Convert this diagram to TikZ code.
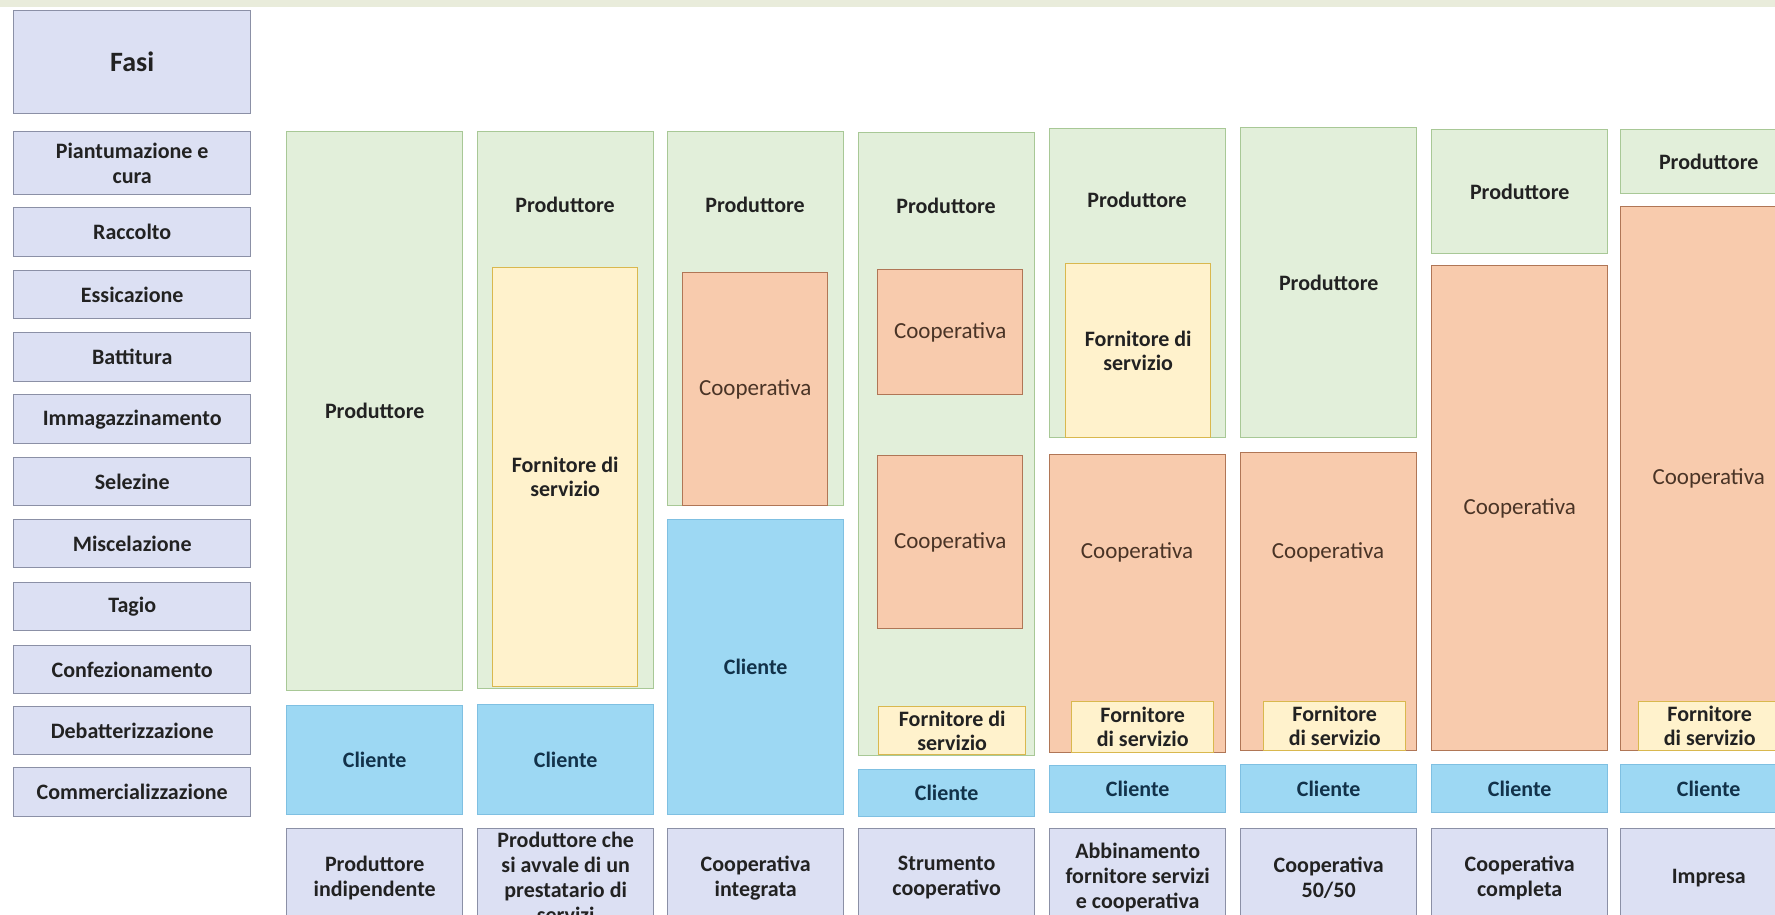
\documentclass[tikz,border=0pt]{standalone}
\usepackage{fontspec}
\setmainfont{Carlito}
\definecolor{grnF}{HTML}{E2EFDA}
\definecolor{grnD}{HTML}{A8C896}
\definecolor{yelF}{HTML}{FFF2CC}
\definecolor{yelD}{HTML}{D9B84E}
\definecolor{orF}{HTML}{F8CBAD}
\definecolor{orD}{HTML}{B07656}
\definecolor{bluF}{HTML}{9DD8F3}
\definecolor{bluD}{HTML}{7FC0E2}
\definecolor{lavF}{HTML}{DCE0F3}
\definecolor{lavD}{HTML}{8B90A6}
\definecolor{topF}{HTML}{E9ECDB}
\definecolor{txt}{HTML}{222222}
\definecolor{coopT}{HTML}{4A3426}
\definecolor{cliT}{HTML}{12324A}
\tikzset{
  base/.style={rectangle, inner sep=0pt, align=center, line width=1.4pt},
  bfont/.style={font=\fontsize{22}{25}\selectfont\bfseries},
  phase/.style={base, fill=lavF, draw=lavD, text=txt, bfont},
  grn/.style={base, fill=grnF, draw=grnD, text=txt, bfont},
  yel/.style={base, fill=yelF, draw=yelD, text=txt, font=\fontsize{22}{24}\selectfont\bfseries},
  ora/.style={base, fill=orF, draw=orD, text=coopT, font=\fontsize{23}{25}\selectfont},
  blu/.style={base, fill=bluF, draw=bluD, text=cliT, bfont},
  kind/.style={phase},
  grnT/.style={inner sep=0pt, text=txt, bfont},
  oraT/.style={inner sep=0pt, text=coopT, font=\fontsize{23}{25}\selectfont},
}
\newcommand\rbox[7]{\node[#2, anchor=north west, minimum width={#5-#3}, minimum height={#6-#4}] (#1) at (#3,#4) {#7};}
\begin{document}
\begin{tikzpicture}[x=1pt,y=-1pt]
\useasboundingbox (0,0) rectangle (1775,915);
\clip (0,0) rectangle (1775,915);
\fill[white] (0,0) rectangle (1775,915);
\fill[topF] (0,0) rectangle (1775,7);
% phases
\rbox{fasi}{phase, font=\fontsize{28}{30}\selectfont\bfseries}{13}{10}{250}{113}{Fasi}
\rbox{p1}{phase}{13}{131}{250}{194}{Piantumazione e\\cura}
\rbox{p2}{phase}{13}{207}{250}{256}{Raccolto}
\rbox{p3}{phase}{13}{270}{250}{318}{Essicazione}
\rbox{p4}{phase}{13}{332}{250}{381}{Battitura}
\rbox{p5}{phase}{13}{394}{250}{443}{Immagazzinamento}
\rbox{p6}{phase}{13}{457}{250}{505}{Selezine}
\rbox{p7}{phase}{13}{519}{250}{567}{Miscelazione}
\rbox{p8}{phase}{13}{582}{250}{630}{Tagio}
\rbox{p9}{phase}{13}{645}{250}{693}{Confezionamento}
\rbox{p10}{phase}{13}{706}{250}{754}{Debatterizzazione}
\rbox{p11}{phase}{13}{767}{250}{816}{Commercializzazione}
% column 1
\rbox{c1g}{grn}{286}{131}{462}{690}{Produttore}
\rbox{c1c}{blu}{286}{705}{462}{814}{Cliente}
\rbox{c1k}{kind}{286}{828}{462}{926}{Produttore\\indipendente}
% column 2
\rbox{c2g}{grn}{477}{131}{653}{688}{}
\node[grnT] (c2gt) at (565,205) {Produttore};
\rbox{c2y}{yel}{492}{267}{637}{686}{Fornitore di\\servizio}
\rbox{c2c}{blu}{477}{704}{653}{814}{Cliente}
\rbox{c2k}{kind}{477}{828}{653}{926}{Produttore che\\si avvale di un\\prestatario di\\servizi}
% column 3
\rbox{c3g}{grn}{667}{131}{843}{505}{}
\node[grnT] (c3gt) at (755,205) {Produttore};
\rbox{c3o}{ora}{682}{272}{827}{505}{Cooperativa}
\rbox{c3c}{blu}{667}{519}{843}{814}{Cliente}
\rbox{c3k}{kind}{667}{828}{843}{926}{Cooperativa\\integrata}
% column 4
\rbox{c4g}{grn}{858}{132}{1034}{755}{}
\node[grnT] (c4gt) at (946,206) {Produttore};
\rbox{c4o1}{ora}{877}{269}{1022}{394}{Cooperativa}
\rbox{c4o2}{ora}{877}{455}{1022}{628}{Cooperativa}
\rbox{c4y}{yel}{878}{706}{1025}{754}{Fornitore di\\servizio}
\rbox{c4c}{blu}{858}{769}{1034}{816}{Cliente}
\rbox{c4k}{kind}{858}{828}{1034}{926}{Strumento\\cooperativo}
% column 5
\rbox{c5g}{grn}{1049}{128}{1225}{437}{}
\node[grnT] (c5gt) at (1137,200) {Produttore};
\rbox{c5y}{yel}{1065}{263}{1210}{437}{Fornitore di\\servizio}
\rbox{c5o}{ora}{1049}{454}{1225}{752}{}
\node[oraT] (c5ot) at (1137,552) {Cooperativa};
\rbox{c5y2}{yel}{1071}{701}{1213}{752}{Fornitore\\di servizio}
\rbox{c5c}{blu}{1049}{765}{1225}{812}{Cliente}
\rbox{c5k}{kind}{1049}{828}{1225}{926}{Abbinamento\\fornitore servizi\\e cooperativa}
% column 6
\rbox{c6g}{grn}{1240}{127}{1416}{437}{Produttore}
\rbox{c6o}{ora}{1240}{452}{1416}{750}{}
\node[oraT] (c6ot) at (1328,552) {Cooperativa};
\rbox{c6y}{yel}{1263}{701}{1405}{750}{Fornitore\\di servizio}
\rbox{c6c}{blu}{1240}{764}{1416}{812}{Cliente}
\rbox{c6k}{kind}{1240}{828}{1416}{926}{Cooperativa\\50/50}
% column 7
\rbox{c7g}{grn}{1431}{129}{1607}{253}{Produttore}
\rbox{c7o}{ora}{1431}{265}{1607}{750}{Cooperativa}
\rbox{c7c}{blu}{1431}{764}{1607}{812}{Cliente}
\rbox{c7k}{kind}{1431}{828}{1607}{926}{Cooperativa\\completa}
% column 8
\rbox{c8g}{grn}{1620}{129}{1796}{193}{Produttore}
\rbox{c8o}{ora}{1620}{206}{1796}{750}{Cooperativa}
\rbox{c8y}{yel}{1638}{701}{1780}{750}{Fornitore\\di servizio}
\rbox{c8c}{blu}{1620}{764}{1796}{812}{Cliente}
\rbox{c8k}{kind}{1620}{828}{1796}{926}{Impresa}
\end{tikzpicture}
\end{document}
